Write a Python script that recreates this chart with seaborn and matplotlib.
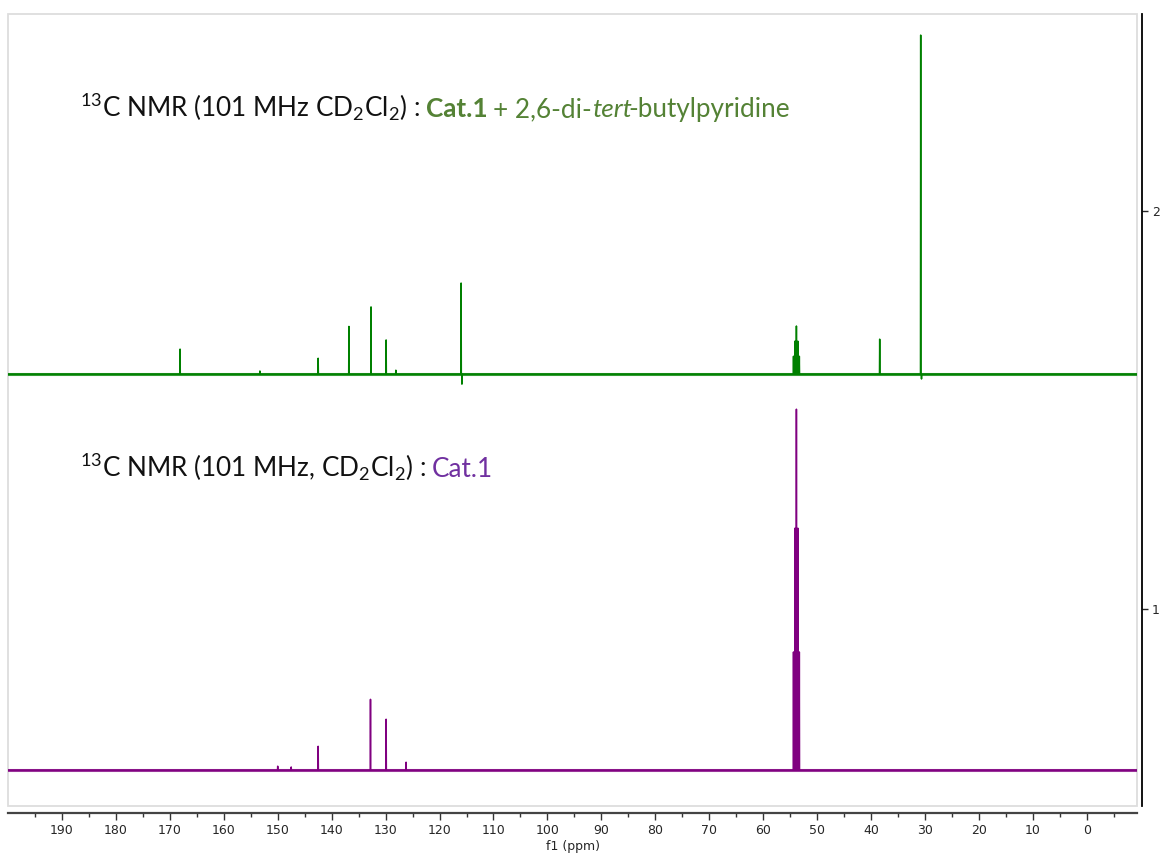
import matplotlib
matplotlib.use("Agg")
import matplotlib.pyplot as plt
from matplotlib.patches import Rectangle
import seaborn as sns
import pandas as pd

# peak positions (ppm) and heights above each trace's baseline
green_ppm = [168.1, 153.3, 142.5, 136.8, 132.7, 129.9, 128.1, 116.0, 115.85,
             54.38, 54.11, 53.84, 53.57, 53.30, 38.4, 30.8, 30.65]
green_height = [0.063, 0.008, 0.040, 0.120, 0.169, 0.086, 0.010, 0.229, -0.025,
                0.045, 0.083, 0.121, 0.083, 0.045, 0.088, 0.852, -0.012]
purple_ppm = [150.0, 147.5, 142.5, 132.8, 129.9, 126.2,
              54.38, 54.11, 53.84, 53.57, 53.30]
purple_height = [0.010, 0.008, 0.060, 0.178, 0.128, 0.020,
                 0.297, 0.608, 0.907, 0.608, 0.297]
green_base = 1.59
purple_base = 0.595

x_ticks = list(range(190, -1, -10))
x_minor = list(range(195, -10, -10))
y_ticks = [1, 2]
x_range = (200.0, -9.3)
y_range = (0.505, 2.495)

line_green = "#008000"
line_purple = "#800080"
text_green = "#548235"
text_purple = "#7030a0"


def trace(ppm, height, base, w=0.04):
    xs, ys = [x_range[0]], [base]
    for p, h in sorted(zip(ppm, height), reverse=True):
        xs += [p + w, p, p - w]
        ys += [base, base + h, base]
    xs.append(x_range[1])
    ys.append(base)
    return pd.DataFrame({"ppm": xs, "y": ys})


sns.set_style("white")
plt.rcParams["font.family"] = ["DejaVu Sans"]
plt.rcParams["mathtext.fontset"] = "custom"
plt.rcParams["mathtext.rm"] = "Lato"
plt.rcParams["mathtext.default"] = "regular"

W, H = 1162, 857
fig = plt.figure(figsize=(W / 100, H / 100), dpi=100)
ax = fig.add_axes([8 / W, 51 / H, 1129 / W, 792 / H])

for ppm, height, base, col in [(green_ppm, green_height, green_base, line_green),
                               (purple_ppm, purple_height, purple_base, line_purple)]:
    df = trace(ppm, height, base)
    ax.axhline(base, color=col, lw=2.2, alpha=0.8)
    sns.lineplot(data=df, x="ppm", y="y", sort=False, estimator=None,
                 color=col, lw=1.1, ax=ax)

ax.set_xlim(*x_range)
ax.set_ylim(*y_range)
ax.set_xticks(x_ticks)
ax.set_xticks(x_minor, minor=True)
ax.set_yticks(y_ticks)
ax.yaxis.tick_right()
ax.set_ylabel("")
ax.set_xlabel("f1 (ppm)", fontsize=9, labelpad=2)
ax.tick_params(axis="x", which="major", length=5, width=1, pad=3, labelsize=9,
               color="#333333", direction="out", bottom=True)
ax.tick_params(axis="x", which="minor", length=3, width=1, color="#333333",
               direction="out", bottom=True)
ax.tick_params(axis="y", length=4, width=1, labelsize=9, direction="out",
               right=True, left=False, pad=3)

for s in ["top", "left"]:
    ax.spines[s].set_visible(False)
ax.spines["bottom"].set_position(("outward", 5))
ax.spines["bottom"].set_color("#444444")
ax.spines["bottom"].set_linewidth(1.6)
ax.spines["right"].set_position(("outward", 3.6))
ax.spines["right"].set_color("black")
ax.spines["right"].set_linewidth(1.3)

ax.add_patch(Rectangle((0, 0), 1, 1, transform=ax.transAxes, fill=False,
                       edgecolor="#dddddd", lw=1.3, clip_on=False))

# titles written piece by piece so colours and weights can change along the line
fig.canvas.draw()
renderer = fig.canvas.get_renderer()
fs = 18.8
gap = fs * 100 / 72 * 0.22


def write_line(x_px, y_px, pieces):
    for s, kw, g in pieces:
        t = fig.text(x_px / W, (H - y_px) / H, s, va="baseline", ha="left",
                     fontsize=fs, family="Lato", **kw)
        bb = t.get_window_extent(renderer)
        x_px = bb.x1 + g


write_line(80, 117, [
    (r"$^{13}$C NMR (101 MHz CD$_2$Cl$_2$) :", dict(color="#111111"), gap),
    ("Cat.1", dict(color=text_green, weight="bold"), gap),
    ("+ 2,6-di-", dict(color=text_green), 0),
    ("tert", dict(color=text_green, style="italic"), -3),
    ("-butylpyridine", dict(color=text_green), 0),
])
write_line(80, 477, [
    (r"$^{13}$C NMR (101 MHz, CD$_2$Cl$_2$) :", dict(color="#111111"), gap),
    ("Cat.1", dict(color=text_purple), 0),
])

fig.savefig("out.png", dpi=100)
